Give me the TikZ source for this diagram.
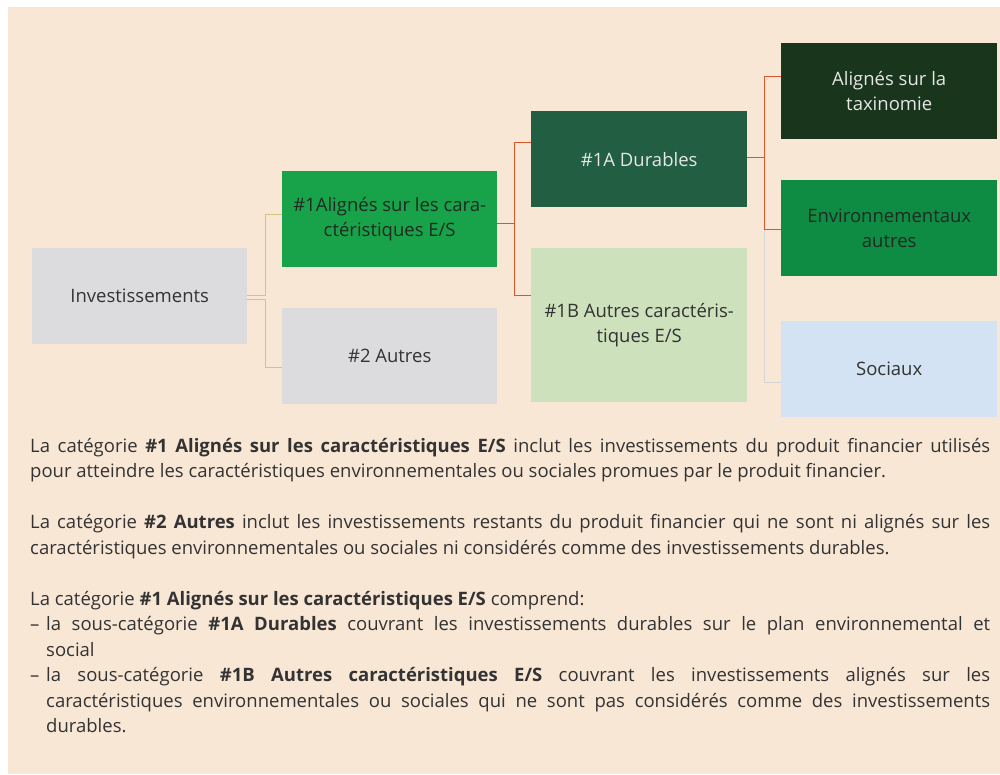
\documentclass[tikz,border=0pt]{standalone}
\usepackage{fontspec}
\setmainfont{Open Sans}
\definecolor{bg}{HTML}{F9E7D6}
\definecolor{greyfill}{HTML}{DCDCDE}
\definecolor{gA}{HTML}{18A34A}
\definecolor{gDur}{HTML}{215E42}
\definecolor{gLight}{HTML}{CDE2BC}
\definecolor{gDark}{HTML}{19361C}
\definecolor{gEnv}{HTML}{0E8C43}
\definecolor{blueL}{HTML}{D3E3F3}
\definecolor{txt}{HTML}{333333}
\definecolor{txtlight}{HTML}{E6E6E6}
\definecolor{txtdark}{HTML}{1E2A22}
\definecolor{tanc}{HTML}{D4C47E}
\definecolor{redc}{HTML}{D9552B}
\definecolor{greyc}{HTML}{D4D4D4}
\begin{document}
\begin{tikzpicture}[x=1pt,y=-1pt,
  every node/.style={font=\fontsize{18.5}{25.5}\selectfont},
  box/.style={rectangle, inner sep=0pt, anchor=north west, minimum width=215pt, minimum height=96pt, align=center, text=txt},
  tanline/.style={draw=tanc, line width=1.1pt},
  redline/.style={draw=redc, line width=1.1pt},
  greyline/.style={draw=greyc, line width=1.1pt}]
\useasboundingbox (0,0) rectangle (1000,774);
\fill[white] (0,0) rectangle (1000,774);
\fill[bg] (8,7) rectangle (1000,774);

\node[box, fill=greyfill] (inv) at (32,248) {Investissements};
\node[box, fill=gA, text=txtdark] (a1) at (282,171) {\#1Alignés sur les cara-\\ctéristiques E/S};
\node[box, fill=greyfill] (a2) at (282,308) {\#2 Autres};
\node[box, fill=gDur, text=txtlight, minimum width=216pt] (d1a) at (531,111) {\#1A Durables};
\node[box, fill=gLight, minimum width=216pt, minimum height=154pt] (d1b) at (531,248) {\#1B Autres caractéris-\\tiques E/S};
\node[box, fill=gDark, text=txtlight, minimum width=216pt] (tax) at (781,43) {Alignés sur la\\taxinomie};
\node[box, fill=gEnv, text=txtdark, minimum width=216pt] (env) at (781,180) {Environnementaux\\autres};
\node[box, fill=blueL, minimum width=216pt] (soc) at (781,321) {Sociaux};

\draw[tanline] ([yshift=1pt]inv.east) -- ++(18,0) |- ([yshift=5pt]a1.west);
\draw[tanline] ([yshift=-3pt]inv.east) -- ++(18,0) |- ([yshift=-11.5pt]a2.west);
\draw[redline] ([yshift=-4pt]a1.east) -- ++(17,0) |- ([yshift=17pt]d1a.west);
\draw[redline] ([yshift=-4pt]a1.east) -- ++(17,0) |- ([yshift=30pt]d1b.west);
\draw[greyline] ([yshift=2pt]d1a.east) -- ++(17,0) |- ([yshift=-13pt]soc.west);
\draw[redline] ([yshift=2pt]d1a.east) -- ++(17,0) |- ([yshift=15pt]tax.west);
\draw[redline] ([yshift=2pt]d1a.east) -- ++(17,0) |- ([yshift=-1pt]env.west);

\node[anchor=north west, inner sep=0pt, text width=960pt, align=justify, text=txt] (body) at (30,438) {%
La catégorie \textbf{\#1 Alignés sur les caractéristiques E/S} inclut les investissements du produit financier utilisés\linebreak pour atteindre les caractéristiques environnementales ou sociales promues par le produit financier.\par
\vspace{25.5pt}
La catégorie \textbf{\#2 Autres} inclut les investissements restants du produit financier qui ne sont ni alignés sur les\linebreak caractéristiques environnementales ou sociales ni considérés comme des investissements durables.\par
\vspace{25.5pt}
La catégorie \textbf{\#1 Alignés sur les caractéristiques E/S} comprend:\par
\hangindent=16pt\hangafter=1\noindent\makebox[16pt][l]{–}la sous-catégorie \textbf{\#1A Durables} couvrant les investissements durables sur le plan environnemental et\linebreak social\par
\hangindent=16pt\hangafter=1\noindent\makebox[16pt][l]{–}la sous-catégorie \textbf{\#1B Autres caractéristiques E/S} couvrant les investissements alignés sur les\linebreak caractéristiques environnementales ou sociales qui ne sont pas considérés comme des investissements\linebreak durables.\par};
\end{tikzpicture}
\end{document}
